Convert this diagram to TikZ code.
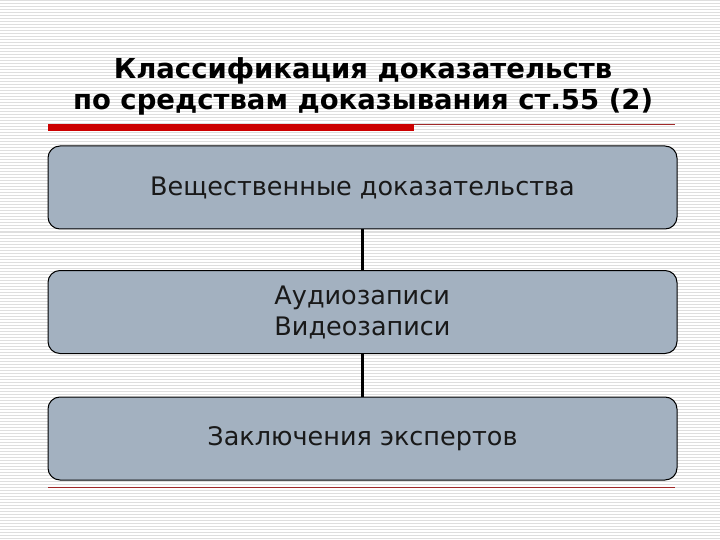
\documentclass[tikz,border=0pt]{standalone}
\usepackage{fontspec}
\setmainfont{DejaVu Sans}
\definecolor{boxfill}{RGB}{163,177,192}
\definecolor{barred}{RGB}{204,0,0}
\definecolor{thinred}{RGB}{160,40,40}
\definecolor{stripe}{RGB}{222,222,222}
\tikzset{
  box/.style={draw=black, line width=1pt, fill=boxfill, rounded corners=12pt,
    minimum width=629pt, minimum height=83pt, font=\fontsize{25.5}{31}\selectfont, text=black!90},
  conn/.style={draw=black, line width=2.2pt},
  title/.style={font=\bfseries\fontsize{27.5}{31}\selectfont, align=center, text=black}
}
\begin{document}
\begin{tikzpicture}[x=1pt,y=-1pt]
\useasboundingbox (0,0) rectangle (720,540);
\fill[white] (0,0) rectangle (720,540);
\foreach \yy in {1,4,...,540} \draw[stripe, line width=1pt] (0,\yy) -- (720,\yy);
\node[title] (t) at (363,86) {Классификация доказательств\\по средствам доказывания ст.55 (2)};
\fill[barred] (48,124) rectangle (414,131);
\draw[thinred, line width=0.8pt] (414,124.4) -- (675,124.4);
\node[box] (b1) at (362.5,187.5) {Вещественные доказательства};
\node[box, align=left] (b2) at (362.5,312) {Аудиозаписи\\Видеозаписи};
\node[box] (b3) at (362.5,438.5) {Заключения экспертов};
\draw[conn] (b1) -- (b2);
\draw[conn] (b2) -- (b3);
\draw[thinred, line width=0.8pt] (48,487) -- (675,487);
\end{tikzpicture}
\end{document}
